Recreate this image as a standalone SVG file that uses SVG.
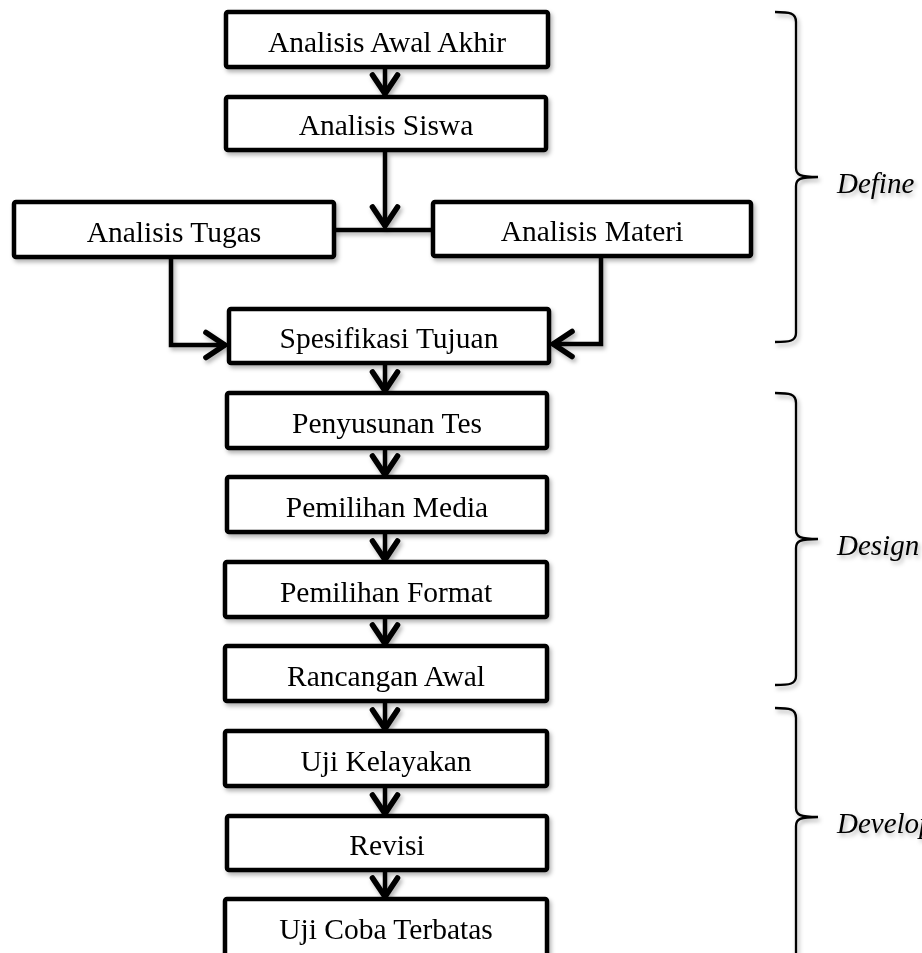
<svg xmlns="http://www.w3.org/2000/svg" width="922" height="953" viewBox="0 0 922 953">
<style>
.box{fill:#fff;stroke:#000;stroke-width:4.5;}
.lbl{font-family:"Liberation Serif","Times New Roman",serif;font-size:29.5px;fill:#000;text-anchor:middle;}
.con{fill:none;stroke:#000;stroke-width:4.5;}
.brace{fill:none;stroke:#000;stroke-width:2.3;}
.phase{font-family:"Liberation Serif","Times New Roman",serif;font-size:29px;font-style:italic;fill:#000;}
</style>
<defs>
<filter id="sh" x="-10%" y="-10%" width="130%" height="140%">
<feDropShadow dx="2" dy="3" stdDeviation="2" flood-color="#000" flood-opacity="0.3"/>
</filter>
<marker id="arr" markerUnits="userSpaceOnUse" markerWidth="40" markerHeight="40" viewBox="-24 -16 30 32" refX="0" refY="0" orient="auto">
<path d="M-16,-10 L-1,0 L-16,10" fill="none" stroke="#000" stroke-width="4.5" stroke-linecap="round" stroke-linejoin="miter"/>
</marker>
</defs>
<rect width="922" height="953" fill="#fff"/>

<g id="connectors" filter="url(#sh)">
<line class="con" x1="385" y1="69" x2="385" y2="95" marker-end="url(#arr)"/>
<line class="con" x1="385" y1="152" x2="385" y2="227" marker-end="url(#arr)"/>
<line class="con" x1="334" y1="230" x2="433" y2="230"/>
<path class="con" d="M171,259 V345 H226" marker-end="url(#arr)"/>
<path class="con" d="M601,258 V344 H552" marker-end="url(#arr)"/>
<line class="con" x1="385" y1="365" x2="385" y2="392" marker-end="url(#arr)"/>
<line class="con" x1="385" y1="450" x2="385" y2="476" marker-end="url(#arr)"/>
<line class="con" x1="385" y1="534" x2="385" y2="561" marker-end="url(#arr)"/>
<line class="con" x1="385" y1="619" x2="385" y2="645" marker-end="url(#arr)"/>
<line class="con" x1="385" y1="703" x2="385" y2="730" marker-end="url(#arr)"/>
<line class="con" x1="385" y1="788" x2="385" y2="815" marker-end="url(#arr)"/>
<line class="con" x1="385" y1="872" x2="385" y2="898" marker-end="url(#arr)"/>
</g>

<g id="n-awal-akhir" filter="url(#sh)">
<rect class="box" x="226" y="12" width="322" height="55" rx="2"/>
<text class="lbl" x="387" y="52">Analisis Awal Akhir</text>
</g>
<g id="n-siswa" filter="url(#sh)">
<rect class="box" x="226" y="97" width="320" height="53" rx="2"/>
<text class="lbl" x="386" y="135">Analisis Siswa</text>
</g>
<g id="n-tugas" filter="url(#sh)">
<rect class="box" x="14" y="202" width="320" height="55" rx="2"/>
<text class="lbl" x="174" y="242">Analisis Tugas</text>
</g>
<g id="n-materi" filter="url(#sh)">
<rect class="box" x="433" y="202" width="318" height="54" rx="2"/>
<text class="lbl" x="592" y="241">Analisis Materi</text>
</g>
<g id="n-spesifikasi" filter="url(#sh)">
<rect class="box" x="229" y="309" width="320" height="54" rx="2"/>
<text class="lbl" x="389" y="348">Spesifikasi Tujuan</text>
</g>
<g id="n-tes" filter="url(#sh)">
<rect class="box" x="227" y="393" width="320" height="55" rx="2"/>
<text class="lbl" x="387" y="433">Penyusunan Tes</text>
</g>
<g id="n-media" filter="url(#sh)">
<rect class="box" x="227" y="477" width="320" height="55" rx="2"/>
<text class="lbl" x="387" y="517">Pemilihan Media</text>
</g>
<g id="n-format" filter="url(#sh)">
<rect class="box" x="225" y="562" width="322" height="55" rx="2"/>
<text class="lbl" x="386" y="602">Pemilihan Format</text>
</g>
<g id="n-rancangan" filter="url(#sh)">
<rect class="box" x="225" y="646" width="322" height="55" rx="2"/>
<text class="lbl" x="386" y="686">Rancangan Awal</text>
</g>
<g id="n-kelayakan" filter="url(#sh)">
<rect class="box" x="225" y="731" width="322" height="55" rx="2"/>
<text class="lbl" x="386" y="771">Uji Kelayakan</text>
</g>
<g id="n-revisi" filter="url(#sh)">
<rect class="box" x="227" y="816" width="320" height="54" rx="2"/>
<text class="lbl" x="387" y="855">Revisi</text>
</g>
<g id="n-ujicoba" filter="url(#sh)">
<rect class="box" x="225" y="899" width="322" height="70" rx="2"/>
<text class="lbl" x="386" y="939">Uji Coba Terbatas</text>
</g>

<g id="phase-define" filter="url(#sh)">
<path class="brace" d="M775,12 C790,12 796,13 796,22 V168 C796,175 800,177 818,177 C800,177 796,179 796,186 V333 C796,341 790,342 775,342"/>
<text class="phase" x="837" y="193">Define</text>
</g>
<g id="phase-design" filter="url(#sh)">
<path class="brace" d="M775,393 C790,393 796,394 796,403 V530 C796,537 800,539 818,539 C800,539 796,541 796,548 V676 C796,684 790,685 775,685"/>
<text class="phase" x="837" y="555">Design</text>
</g>
<g id="phase-develop" filter="url(#sh)">
<path class="brace" d="M775,708 C790,708 796,709 796,718 V808 C796,815 800,817 818,817 C800,817 796,819 796,826 V960"/>
<text class="phase" x="837" y="833">Develop</text>
</g>
</svg>
